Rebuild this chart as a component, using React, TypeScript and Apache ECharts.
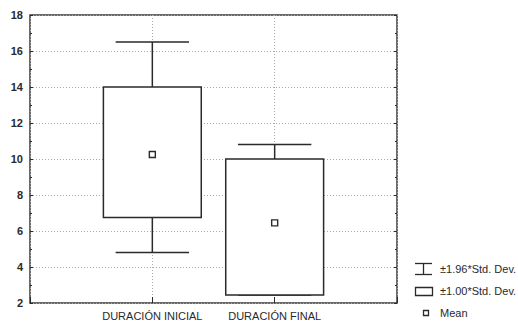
import React, { useEffect, useRef } from "react";
import * as echarts from "echarts";

const categories = ["DURACIÓN INICIAL", "DURACIÓN FINAL"];
const whiskerHigh = [16.5, 10.8];
const boxHigh = [14.0, 10.0];
const means = [10.25, 6.45];
const boxLow = [6.75, 2.45];
const whiskerLow = [4.8, 2.45];
const legendLabels = ["±1.96*Std. Dev.", "±1.00*Std. Dev.", "Mean"];

const FONT = "'Liberation Sans', Arial, sans-serif";
const INK = "#2a2a2a";

export default function App() {
  const ref = useRef<HTMLDivElement>(null);
  useEffect(() => {
    if (!ref.current) return;
    const chart = echarts.init(ref.current, null, { renderer: "svg" });
    const data = categories.map((_, i) => [
      i + 1,
      whiskerLow[i],
      boxLow[i],
      means[i],
      boxHigh[i],
      whiskerHigh[i],
    ]);
    chart.setOption({
      animation: false,
      backgroundColor: "#ffffff",
      grid: {
        left: 30,
        right: 121,
        top: 15,
        bottom: 19,
        show: true,
        borderColor: "#3a3a3a",
        borderWidth: 1.5,
        backgroundColor: "transparent",
      },
      xAxis: {
        type: "value",
        min: 0,
        max: 3,
        interval: 1,
        axisLine: { show: false },
        axisTick: { show: true, inside: true, length: 6, lineStyle: { color: INK, width: 1 } },
        splitLine: { show: true, lineStyle: { color: "#a8a8a8", type: [1, 2], width: 1 } },
        axisLabel: {
          margin: 7,
          fontFamily: FONT,
          fontSize: 11,
          color: INK,
          formatter: (v: number) => (v === 1 ? categories[0] : v === 2 ? categories[1] : ""),
        },
      },
      yAxis: [
        {
          type: "value",
          min: 2,
          max: 18,
          interval: 2,
          axisLine: { show: false },
          axisTick: { show: true, inside: true, length: 3, lineStyle: { color: INK } },
          minorTick: { show: true, splitNumber: 2, length: 2, lineStyle: { color: INK } },
          splitLine: { show: true, lineStyle: { color: "#a8a8a8", type: [1, 2], width: 1 } },
          axisLabel: { margin: 7, fontFamily: FONT, fontSize: 11, fontWeight: "bold", color: INK },
        },
        {
          type: "value",
          position: "right",
          min: 2,
          max: 18,
          interval: 2,
          axisLine: { show: false },
          axisTick: { show: true, inside: true, length: 3, lineStyle: { color: INK } },
          minorTick: { show: true, splitNumber: 2, length: 2, lineStyle: { color: INK } },
          splitLine: { show: false },
          axisLabel: { show: false },
        },
      ],
      series: [
        {
          type: "custom",
          data,
          encode: { x: 0, y: [1, 2, 3, 4, 5] },
          renderItem: (params: any, api: any) => {
            const x = api.value(0);
            const pWL = api.coord([x, api.value(1)]);
            const pBL = api.coord([x, api.value(2)]);
            const pM = api.coord([x, api.value(3)]);
            const pBH = api.coord([x, api.value(4)]);
            const pWH = api.coord([x, api.value(5)]);
            const halfBox = api.size([0.4, 0])[0];
            const halfCap = api.size([0.3, 0])[0];
            const ls = { stroke: INK, lineWidth: 1.5, fill: null };
            return {
              type: "group",
              children: [
                { type: "line", shape: { x1: pWL[0], y1: pWL[1], x2: pWH[0], y2: pWH[1] }, style: ls },
                { type: "line", shape: { x1: pWH[0] - halfCap, y1: pWH[1], x2: pWH[0] + halfCap, y2: pWH[1] }, style: ls },
                { type: "line", shape: { x1: pWL[0] - halfCap, y1: pWL[1], x2: pWL[0] + halfCap, y2: pWL[1] }, style: ls },
                {
                  type: "rect",
                  shape: { x: pBH[0] - halfBox, y: pBH[1], width: halfBox * 2, height: pBL[1] - pBH[1] },
                  style: { fill: "#ffffff", stroke: INK, lineWidth: 1.5 },
                },
                {
                  type: "rect",
                  shape: { x: pM[0] - 3, y: pM[1] - 3, width: 6, height: 6 },
                  style: { fill: "#ffffff", stroke: INK, lineWidth: 1.4 },
                },
              ],
            };
          },
        },
      ],
      graphic: [
        { type: "line", shape: { x1: 423.5, y1: 263.5, x2: 423.5, y2: 274.5 }, style: { stroke: INK, lineWidth: 1.3 } },
        { type: "line", shape: { x1: 415, y1: 263.5, x2: 432, y2: 263.5 }, style: { stroke: INK, lineWidth: 1.3 } },
        { type: "line", shape: { x1: 415, y1: 274.5, x2: 432, y2: 274.5 }, style: { stroke: INK, lineWidth: 1.3 } },
        { type: "rect", shape: { x: 415.5, y: 287.5, width: 17, height: 8 }, style: { fill: "#fff", stroke: INK, lineWidth: 1.3 } },
        { type: "rect", shape: { x: 423.5, y: 310.5, width: 5, height: 5 }, style: { fill: "#fff", stroke: INK, lineWidth: 1.3 } },
        { type: "text", x: 440, y: 269, style: { text: legendLabels[0], fontFamily: FONT, fontSize: 11, fill: INK, verticalAlign: "middle" } },
        { type: "text", x: 440, y: 291, style: { text: legendLabels[1], fontFamily: FONT, fontSize: 11, fill: INK, verticalAlign: "middle" } },
        { type: "text", x: 440, y: 313, style: { text: legendLabels[2], fontFamily: FONT, fontSize: 11, fill: INK, verticalAlign: "middle" } },
      ],
    });
    return () => chart.dispose();
  }, []);
  return <div ref={ref} style={{ width: 518, height: 322, position: "absolute", left: 0, top: 0 }} />;
}
